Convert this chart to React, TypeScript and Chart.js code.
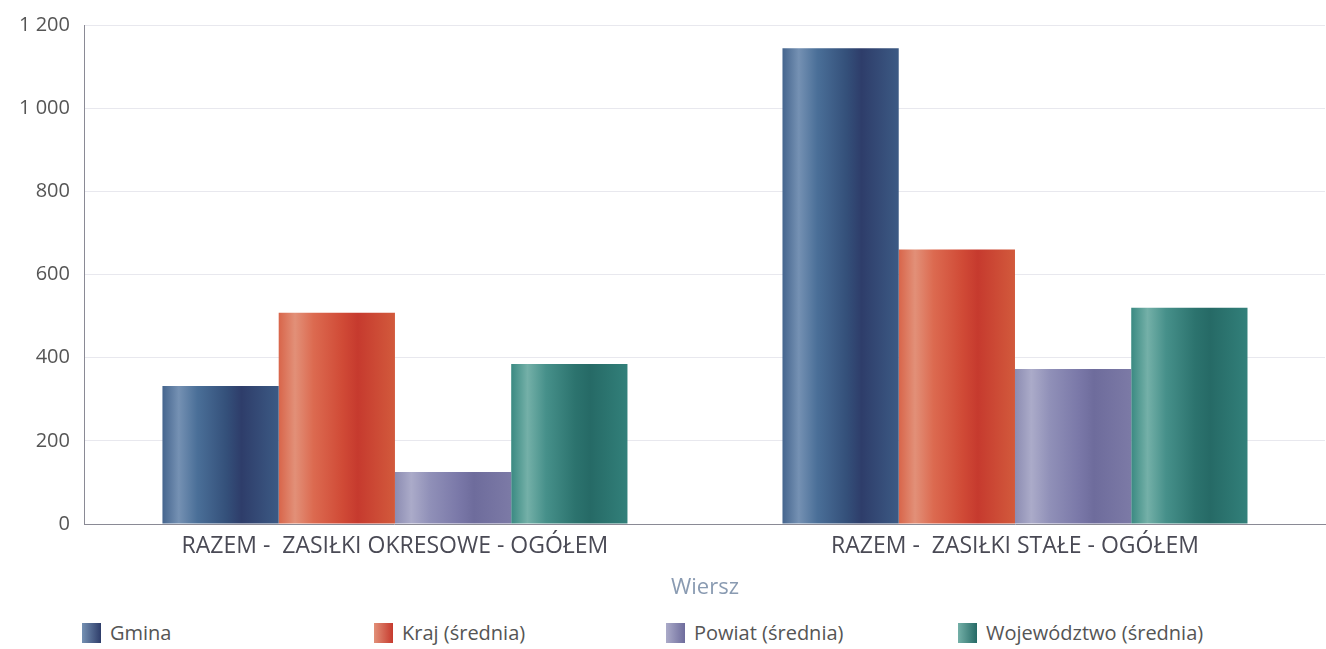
import React, { useEffect, useRef } from "react";
import { Chart, registerables } from "chart.js";

Chart.register(...registerables);

const categories = ["RAZEM -  ZASIŁKI OKRESOWE - OGÓŁEM", "RAZEM -  ZASIŁKI STAŁE - OGÓŁEM"];
const seriesNames = ["Gmina", "Kraj (średnia)", "Powiat (średnia)", "Województwo (średnia)"];
const gminaValues = [332, 1144];
const krajValues = [508, 660];
const powiatValues = [125, 373];
const wojValues = [385, 520];
const yTicks = [0, 200, 400, 600, 800, 1000, 1200];
const axisTitle = "Wiersz";

const palettes = [
  { base: "#3a5d88", stops: ["#45658e", "#7591b3", "#4a6f98", "#34507a", "#2e3d6a", "#3c5a84"] },
  { base: "#d4553c", stops: ["#d8654a", "#e29078", "#dc6a50", "#d04a36", "#c63a2e", "#d25a3c"] },
  { base: "#7d7aa8", stops: ["#8c8cb2", "#ababc9", "#9090b8", "#7a78a8", "#6e6c9c", "#7c7aa6"] },
  { base: "#2f7d77", stops: ["#3a8a82", "#74b0a8", "#46908a", "#2c736e", "#266a66", "#32807a"] },
];
const stopPos = [0, 0.14, 0.3, 0.55, 0.68, 1];

const gradientPlugin = {
  id: "cylGradient",
  beforeDatasetsDraw(chart: any) {
    const ctx = chart.ctx;
    chart.data.datasets.forEach((ds: any, di: number) => {
      const meta = chart.getDatasetMeta(di);
      meta.data.forEach((el: any) => {
        const w = el.width;
        const x0 = el.x - w / 2;
        const g = ctx.createLinearGradient(x0, 0, x0 + w, 0);
        palettes[di].stops.forEach((c, i) => g.addColorStop(stopPos[i], c));
        el.options = Object.assign({}, el.options, { backgroundColor: g });
      });
    });
  },
};

const FONT = "Open Sans";

export default function App() {
  const ref = useRef<HTMLCanvasElement | null>(null);
  useEffect(() => {
    document.body.style.margin = "0";
    const values = [gminaValues, krajValues, powiatValues, wojValues];
    const chart = new Chart(ref.current as HTMLCanvasElement, {
      type: "bar",
      data: {
        labels: categories,
        datasets: seriesNames.map((n, i) => ({
          label: n,
          data: values[i],
          backgroundColor: () => palettes[i].base,
          borderWidth: 0,
          barPercentage: 1,
          categoryPercentage: 0.75,
        })),
      },
      options: {
        animation: false,
        responsive: false,
        maintainAspectRatio: false,
        layout: { padding: { left: 4, right: 1, top: 11, bottom: 9 } },
        plugins: { legend: { display: false }, tooltip: { enabled: false } },
        scales: {
          x: {
            grid: { display: false },
            border: { color: "#8a8a95", width: 1 },
            ticks: { color: "#4a4a55", font: { family: FONT, size: 23 }, padding: 1 },
            title: {
              display: true,
              text: axisTitle,
              color: "#8a9bb2",
              font: { family: FONT, size: 22 },
              padding: { top: 13, bottom: 0 },
            },
          },
          y: {
            min: 0,
            max: 1200,
            afterBuildTicks: (s: any) => {
              s.ticks = yTicks.map((v) => ({ value: v }));
            },
            grid: { color: "#e8e8ee", drawTicks: false },
            border: { color: "#8a8a95", width: 1 },
            ticks: {
              color: "#555",
              font: { family: FONT, size: 20, lineHeight: 1 },
              padding: 15,
              callback: (v: any) => String(v).replace(/\B(?=(\d{3})+(?!\d))/g, " "),
            },
          },
        },
      },
      plugins: [gradientPlugin],
    });
    return () => chart.destroy();
  }, []);

  const legendItems = seriesNames.map((n, i) => (
    <div key={n} style={{ display: "flex", alignItems: "center", width: 292 }}>
      <span
        style={{
          display: "inline-block",
          width: 19,
          height: 20,
          marginRight: 9,
          background: `linear-gradient(to right, ${palettes[i].stops[1]}, ${palettes[i].stops[4]})`,
        }}
      />
      <span style={{ color: "#555", fontFamily: FONT, fontSize: 20 }}>{n}</span>
    </div>
  ));

  return (
    <div style={{ position: "fixed", left: 0, top: 0, width: 1326, height: 649, background: "#fff" }}>
      <canvas ref={ref} width={1326} height={610} style={{ display: "block" }} />
      <div style={{ position: "absolute", left: 82, top: 619, display: "flex", lineHeight: "28px" }}>{legendItems}</div>
    </div>
  );
}
